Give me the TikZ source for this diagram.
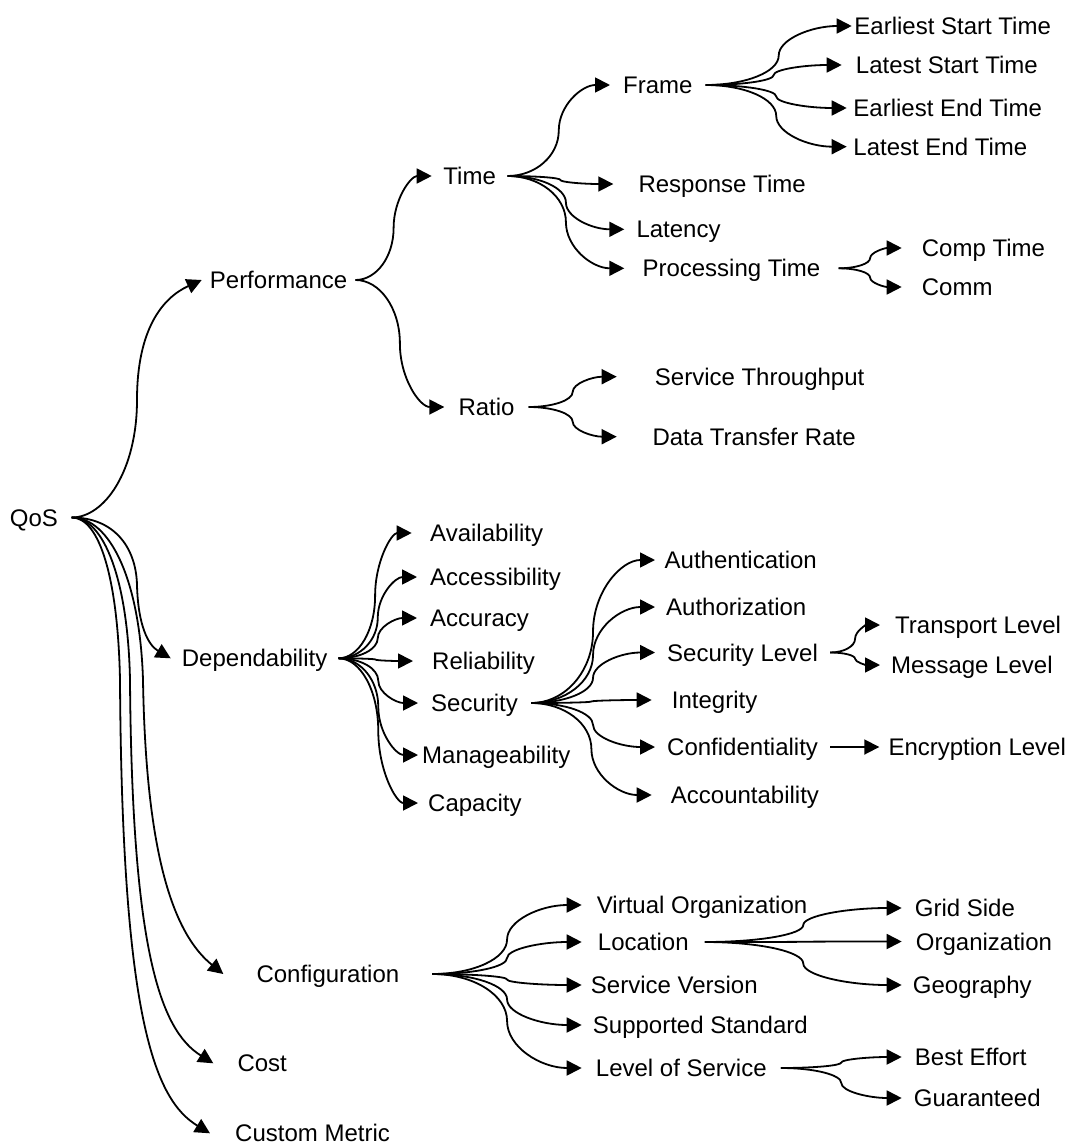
\documentclass[tikz,border=0pt]{standalone}
\usepackage{fontspec}
\setmainfont{Liberation Sans}
\usetikzlibrary{arrows.meta,calc}
\begin{document}
\begin{tikzpicture}[x=1pt,y=-1pt,
  lbl/.style={anchor=west, inner ysep=0pt, text height=17pt, text depth=0pt,
    font=\fontsize{24}{28}\selectfont},
  conn/.style={line width=1.8pt, line join=round,
    -{Triangle[length=15pt,width=15pt]}},
  % horizontal start, two quarter-ellipse turns meeting vertically half way
  fan/.style={conn, to path={let \p1=(\tikztostart), \p2=(\tikztotarget),
     \n1={0.5*\x1+0.5*\x2}, \n2={0.5*\y1+0.5*\y2},
     \n3={\x1+0.552*(\n1-\x1)}, \n4={\y1+0.448*(\n2-\y1)},
     \n5={\n2+0.552*(\y2-\n2)}, \n6={\x2-0.552*(\x2-\n1)} in
     .. controls (\n3,\y1) and (\n1,\n4) .. (\n1,\n2)
     .. controls (\n1,\n5) and (\n6,\y2) .. (\p2)}}]
\useasboundingbox (0,0) rectangle (1074,1146);

% root
\node[lbl, anchor=east, inner xsep=13.5pt] (qos) at (71.7,517.5) {QoS};

% first level
\node[lbl, inner xsep=8pt]    (perf)   at (201.7,280)   {Performance};
\node[lbl, inner xsep=11pt]   (dep)    at (170.7,658.3) {Dependability};
\node[lbl, inner xsep=33pt]   (config) at (223.3,974)   {Configuration};
\node[lbl, inner xsep=24pt]   (cost)   at (213.3,1063.3){Cost};
\node[lbl, inner xsep=25pt]   (custom) at (210,1133.3)  {Custom Metric};

% performance
\node[lbl, inner xsep=11.5pt] (time)   at (431.7,176)   {Time};
\node[lbl, inner xsep=14pt]   (ratio)  at (444.3,407)   {Ratio};
\node[lbl, inner xsep=13pt]   (frame)  at (610,85)      {Frame};
\node[lbl, inner xsep=25pt]   (resp)   at (613.3,184)   {Response Time};
\node[lbl, inner xsep=12pt]   (lat)    at (624.3,229.3) {Latency};
\node[lbl, inner xsep=18pt]   (proc)   at (624.3,268.3) {Processing Time};
\node[lbl, inner xsep=2.5pt]  (est)    at (851.7,26)    {Earliest Start Time};
\node[lbl, inner xsep=14pt]   (lst)    at (841.7,65)    {Latest Start Time};
\node[lbl, inner xsep=6.5pt]  (eet)    at (846.7,108)   {Earliest End Time};
\node[lbl, inner xsep=6.5pt]  (let)    at (846.7,146.7) {Latest End Time};
\node[lbl, inner xsep=20pt]   (comp)   at (901.7,248)   {Comp Time};
\node[lbl, inner xsep=20pt]   (comm)   at (901.7,287)   {Comm};
\node[lbl, inner xsep=38pt]   (thr)    at (616.7,376.7) {Service Throughput};
\node[lbl, inner xsep=35.6pt] (dtr)    at (616.7,436.7) {Data Transfer Rate};

% dependability
\node[lbl, inner xsep=18.3pt] (avail)  at (411.7,533)   {Availability};
\node[lbl, inner xsep=13pt]   (access) at (417,577)     {Accessibility};
\node[lbl, inner xsep=13pt]   (accur)  at (417,618)     {Accuracy};
\node[lbl, inner xsep=19pt]   (rel)    at (413,661)     {Reliability};
\node[lbl, inner xsep=13pt]   (sec)    at (418,703)     {Security};
\node[lbl, inner xsep=4pt]    (manage) at (418,755)     {Manageability};
\node[lbl, inner xsep=10pt]   (capac)  at (418,803)     {Capacity};
\node[lbl, inner xsep=9.5pt]  (authn)  at (655,560)     {Authentication};
\node[lbl, inner xsep=11pt]   (authz)  at (655,607)     {Authorization};
\node[lbl, inner xsep=12pt]   (seclev) at (655,652.5)   {Security Level};
\node[lbl, inner xsep=20pt]   (integ)  at (651.7,700)   {Integrity};
\node[lbl, inner xsep=12pt]   (conf)   at (655,747)     {Confidentiality};
\node[lbl, inner xsep=19pt]   (acct)   at (651.7,795)   {Accountability};
\node[lbl, inner xsep=15pt]   (tl)     at (880,625)     {Transport Level};
\node[lbl, inner xsep=11pt]   (ml)     at (880,665)     {Message Level};
\node[lbl, inner xsep=9pt]    (enc)    at (879.3,747)   {Encryption Level};

% configuration
\node[lbl, inner xsep=15pt]   (vo)     at (581.7,905)   {Virtual Organization};
\node[lbl, inner xsep=16pt]   (loc)    at (581.7,942)   {Location};
\node[lbl, inner xsep=9pt]    (sv)     at (581.7,985)   {Service Version};
\node[lbl, inner xsep=11pt]   (ss)     at (581.7,1025)  {Supported Standard};
\node[lbl, inner xsep=14pt]   (los)    at (581.7,1068)  {Level of Service};
\node[lbl, inner xsep=13pt]   (grid)   at (901.7,908)   {Grid Side};
\node[lbl, inner xsep=14pt]   (org)    at (901.7,941.5) {Organization};
\node[lbl, inner xsep=11pt]   (geo)    at (901.7,985)   {Geography};
\node[lbl, inner xsep=13pt]   (best)   at (901.7,1057)  {Best Effort};
\node[lbl, inner xsep=12pt]   (guar)   at (901.7,1098)  {Guaranteed};

% root connectors
\draw[conn] (qos.east) .. controls (105,517.5) and (137,470) .. (137,400)
                       .. controls (137,330) and (162,298) .. (perf.west);
\draw[conn] (qos.east) .. controls (112,517.5) and (136,545) .. (137,585)
                       .. controls (138,625) and (148,645) .. (dep.west);
\draw[conn] (qos.east) .. controls (110,517.5) and (140,580) .. (143,680)
                       .. controls (146,860) and (175,935) .. (config.west);
\draw[conn] (qos.east) .. controls (104,517.5) and (128,580) .. (130,680)
                       .. controls (132,950) and (160,1030) .. (cost.west);
\draw[conn] (qos.east) .. controls (100,517.5) and (118,580) .. (120,680)
                       .. controls (122,1020) and (155,1100) .. (custom.west);

% performance branch
\draw[fan] (perf.east) to (time.west);
\draw[fan] (perf.east) to (ratio.west);
\draw[fan] (time.east) to (frame.west);
\draw[fan] (time.east) to (resp.west);
\draw[fan] (time.east) to (lat.west);
\draw[fan] (time.east) to (proc.west);
\draw[fan] (frame.east) to (est.west);
\draw[fan] (frame.east) to (lst.west);
\draw[fan] (frame.east) to (eet.west);
\draw[fan] (frame.east) to (let.west);
\draw[fan] (proc.east) to (comp.west);
\draw[fan] (proc.east) to (comm.west);
\draw[fan] (ratio.east) to (thr.west);
\draw[fan] (ratio.east) to (dtr.west);

% dependability branch
\draw[fan] (dep.east) to (avail.west);
\draw[fan] (dep.east) to (access.west);
\draw[fan] (dep.east) to (accur.west);
\draw[fan] (dep.east) to (rel.west);
\draw[fan] (dep.east) to (sec.west);
\draw[fan] (dep.east) to (manage.west);
\draw[fan] (dep.east) to (capac.west);
\draw[fan] (sec.east) to (authn.west);
\draw[fan] (sec.east) to (authz.west);
\draw[fan] (sec.east) to (seclev.west);
\draw[fan] (sec.east) to (integ.west);
\draw[fan] (sec.east) to (conf.west);
\draw[fan] (sec.east) to (acct.west);
\draw[fan] (seclev.east) to (tl.west);
\draw[fan] (seclev.east) to (ml.west);
\draw[conn] (conf.east) -- (enc.west);

% configuration branch
\draw[fan] (config.east) to (vo.west);
\draw[fan] (config.east) to (loc.west);
\draw[fan] (config.east) to (sv.west);
\draw[fan] (config.east) to (ss.west);
\draw[fan] (config.east) to (los.west);
\draw[fan] (loc.east) to (grid.west);
\draw[fan] (loc.east) to (org.west);
\draw[fan] (loc.east) to (geo.west);
\draw[fan] (los.east) to (best.west);
\draw[fan] (los.east) to (guar.west);
\end{tikzpicture}
\end{document}
